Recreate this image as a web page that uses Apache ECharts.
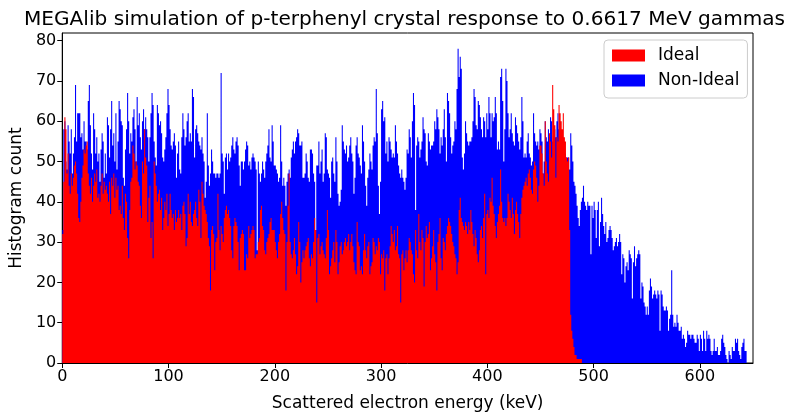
<!DOCTYPE html>
<html>
<head>
<meta charset="utf-8">
<script src="https://cdn.jsdelivr.net/npm/echarts@6/dist/echarts.min.js"></script>
<style>
  html, body { margin: 0; padding: 0; background: #fff; }
  #chart { width: 785px; height: 417px; }
</style>
</head>
<body>
<div id="chart"></div>
<script>
// histogram counts, 1 keV bins starting at 0 keV
const nonIdealCounts = [
  33,58,60,50,48,59,55,52,58,47,52,56,69,55,62,62,62,56,57,53,60,55,55,53,65,69,59,52,48,62,
  58,52,56,50,52,45,53,57,55,46,52,47,61,59,51,58,65,54,57,50,62,48,55,
  65,63,60,59,46,44,53,58,67,60,52,57,55,61,63,58,50,66,59,62,56,53,60,63,58,61,58,56,50,56,
  62,67,64,55,51,49,64,62,59,60,57,51,50,53,56,62,68,64,58,54,53,55,57,54,46,52,
  55,48,47,56,62,58,54,56,60,62,55,57,55,68,66,51,58,59,57,55,54,53,56,52,50,41,45,62,49,44,
  47,53,50,47,47,46,47,47,46,47,72,52,50,42,51,52,48,52,50,51,54,56,53,52,55,
  56,54,49,44,50,50,48,50,53,55,54,49,50,48,51,52,51,50,48,28,50,47,45,47,50,48,46,50,52,54,
  58,51,50,59,55,49,49,48,47,45,46,59,50,44,46,44,39,45,47,48,46,51,53,55,52,
  55,56,58,57,54,54,55,46,46,47,52,50,46,45,53,53,52,47,45,33,49,49,55,47,50,53,45,47,57,56,
  48,47,46,41,50,51,47,45,56,50,42,39,40,43,59,55,53,52,54,50,51,54,56,52,50,
  42,46,54,56,52,51,49,47,59,55,50,44,39,46,48,52,50,48,54,56,55,68,57,44,37,45,63,65,60,61,
  52,55,50,56,55,53,51,52,51,59,55,52,49,47,46,48,46,45,43,46,53,52,58,56,51,
  60,67,64,38,54,56,55,51,53,55,61,58,57,50,49,57,55,53,54,54,55,60,58,63,61,58,52,56,54,58,
  63,56,50,67,65,62,56,52,54,55,60,58,68,78,71,76,73,51,48,52,60,57,55,54,55,
  55,56,60,68,66,59,58,65,64,61,58,56,61,60,56,62,58,66,62,56,62,60,61,66,62,53,55,53,71,73,
  65,50,58,73,70,62,56,58,62,57,55,54,61,59,57,55,53,56,66,60,51,52,51,55,57,52,
  51,49,50,62,57,55,54,55,53,58,57,55,47,50,60,56,55,58,56,61,60,55,57,58,56,60,62,58,55,57,
  56,53,54,52,51,51,51,48,57,54,50,45,44,42,39,36,34,38,40,41,44,40,39,38,40,
  39,39,27,39,36,40,38,31,38,40,29,35,41,37,34,32,35,30,31,33,34,33,31,28,29,30,31,29,30,32,
  30,22,27,26,20,24,25,23,28,27,26,16,25,29,24,26,27,28,27,16,20,19,15,14,12,
  14,12,18,21,19,16,17,18,17,16,18,17,8,18,17,14,13,13,14,13,8,11,12,23,12,9,10,9,12,10,
  8,8,9,6,7,6,4,5,8,7,7,6,7,7,6,5,5,7,6,3,7,6,3,8,6,
  3,8,6,7,6,3,2,3,6,3,3,4,2,2,3,6,7,5,4,2,1,0,3,2,1,4,3,3,6,5,
  6,3,2,1,4,5,6,3,3,0,0,0,0,0,0
]

const idealCounts = [
  32,45,61,58,47,52,44,42,47,44,46,49,50,47,42,36,35,40,46,49,53,52,54,55,47,44,42,46,40,44,
  47,45,48,41,42,40,44,47,42,45,43,44,42,40,45,37,46,44,47,41,46,43,44,
  38,39,37,44,36,33,42,40,31,26,38,45,46,54,52,48,50,49,45,44,39,36,50,47,58,51,49,35,41,44,
  31,35,26,50,47,44,40,42,43,38,41,33,36,40,38,42,34,37,42,38,36,37,33,38,35,36,
  38,36,37,33,39,40,37,29,31,42,37,40,35,34,37,38,40,36,34,43,40,31,45,42,39,38,37,35,31,29,
  18,33,34,32,23,30,31,42,33,28,34,32,30,36,38,39,37,38,36,34,28,26,34,36,35,
  34,30,23,31,32,33,32,23,23,27,26,34,31,32,33,34,33,26,27,27,30,31,38,39,34,33,28,27,30,31,
  32,35,36,33,33,33,30,28,26,30,32,37,40,36,33,32,18,30,39,47,30,27,26,28,31,
  27,22,24,35,30,20,25,28,26,28,29,30,31,26,24,27,26,30,36,33,15,31,32,27,29,30,28,27,26,31,
  38,33,22,24,26,28,30,25,33,30,22,25,29,30,27,28,30,31,29,30,32,28,30,32,29,
  25,23,22,35,30,29,23,24,22,28,32,28,26,29,30,22,24,25,31,30,27,29,28,31,30,22,27,26,28,18,
  26,27,22,26,29,34,32,30,33,28,29,34,27,26,15,27,28,23,26,28,25,28,31,30,28,
  27,22,20,33,28,26,37,30,28,33,31,19,30,34,31,32,35,23,26,29,33,27,25,18,30,32,36,26,23,31,
  30,28,32,34,36,35,34,32,30,29,27,26,22,25,38,41,36,35,34,33,35,34,32,35,33,
  38,35,32,29,33,31,27,25,28,33,34,31,36,42,22,37,38,36,41,40,46,39,37,34,31,35,37,39,48,40,
  36,35,36,34,36,42,40,38,36,41,37,32,38,40,37,35,31,37,41,43,44,45,46,44,47,48,
  46,43,42,48,50,49,46,40,44,54,54,52,47,44,60,50,47,45,57,55,51,69,63,59,46,56,55,64,62,60,
  58,62,56,55,51,50,51,33,12,8,6,4,2,2,1,1,1,1,1,0
]

const xTicks = [0, 100, 200, 300, 400, 500, 600]
const yTicks = [0, 10, 20, 30, 40, 50, 60, 70, 80]
const xMax = 650
const yMax = 81.9

const bins = nonIdealCounts.map((_, i) => i)

const chart = echarts.init(document.getElementById('chart'))
const font = 'DejaVu Sans'

chart.setOption({
  animation: false,
  textStyle: {fontFamily: font, color: '#000'},
  title: {
    text: 'MEGAlib simulation of p-terphenyl crystal response to 0.6617 MeV gammas',
    left: 19,
    top: 5,
    textStyle: {fontFamily: font, fontSize: 20.1, fontWeight: 'normal', color: '#000'}
  },
  legend: {
    data: ['Ideal', 'Non-Ideal'],
    orient: 'vertical',
    left: 604,
    top: 40,
    itemWidth: 33,
    itemHeight: 12,
    itemGap: 8,
    padding: [7, 8, 9, 8],
    icon: 'rect',
    borderColor: '#ccc',
    borderWidth: 1,
    borderRadius: 4,
    backgroundColor: 'rgba(255,255,255,0.8)',
    textStyle: {fontFamily: font, fontSize: 17, color: '#000', padding: [0, 0, 0, 8]}
  },
  grid: {
    left: 59, right: 32, top: 33, bottom: 44,
    show: true, borderColor: '#000', borderWidth: 1, backgroundColor: 'transparent'
  },
  xAxis: [
    {type: 'category', data: bins, show: false, boundaryGap: true},
    {
      type: 'value', min: 0, max: xMax, position: 'bottom',
      axisLine: {show: true, onZero: false, lineStyle: {color: '#000'}},
      axisTick: {show: true, inside: false, length: 5, customValues: xTicks, lineStyle: {color: '#000'}},
      axisLabel: {customValues: xTicks, color: '#000', fontFamily: font, fontSize: 16, margin: 6},
      splitLine: {show: false},
      name: 'Scattered electron energy (keV)',
      nameLocation: 'middle',
      nameGap: 32,
      nameTextStyle: {fontFamily: font, fontSize: 17, color: '#000'}
    }
  ],
  yAxis: {
    type: 'value', min: 0, max: yMax,
    axisLine: {show: true, lineStyle: {color: '#000'}},
    axisTick: {show: true, inside: false, length: 5, customValues: yTicks, lineStyle: {color: '#000'}},
    axisLabel: {customValues: yTicks, color: '#000', fontFamily: font, fontSize: 16, margin: 6},
    splitLine: {show: false},
    name: 'Histogram count',
    nameLocation: 'middle',
    nameGap: 36,
    nameTextStyle: {fontFamily: font, fontSize: 17, color: '#000'}
  },
  series: [
    {
      name: 'Non-Ideal', type: 'bar', xAxisIndex: 0, data: nonIdealCounts,
      barCategoryGap: '0%', barGap: '-100%',
      large: true, largeThreshold: 100,
      itemStyle: {color: '#0000ff'}
    },
    {
      name: 'Ideal', type: 'bar', xAxisIndex: 0, data: idealCounts,
      barCategoryGap: '0%', barGap: '-100%',
      large: true, largeThreshold: 100,
      itemStyle: {color: '#ff0000'}
    }
  ]
})
</script>
</body>
</html>
